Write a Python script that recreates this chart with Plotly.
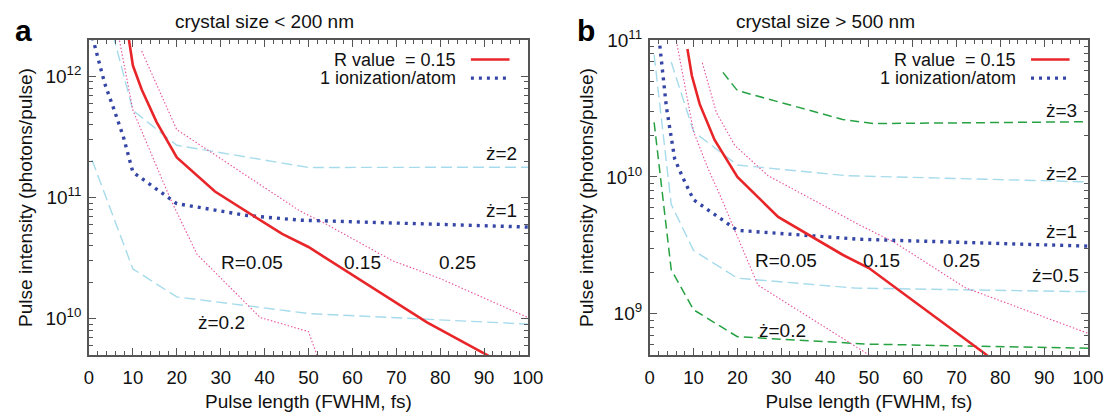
import numpy as np
import plotly.graph_objects as go

# ---------------- data: panel a (crystal size < 200 nm) ----------------
pulse_a_r015 = [8.7, 10, 12, 15.4, 20, 28.7, 44, 50, 77, 80, 91, 92.5]
inten_a_r015 = [2.5e12, 1.23e12, 7.8e11, 4.2e11, 2.14e11, 1.12e11, 5.0e10, 3.9e10, 9.3e9, 8.1e9, 4.9e9, 4.6e9]

pulse_a_ion = [0.8, 3.6, 5.8, 7.8, 10, 20, 36, 48, 100]
inten_a_ion = [2.1e12, 8.7e11, 5.2e11, 3.2e11, 1.62e11, 8.9e10, 7.1e10, 6.5e10, 5.7e10]

pulse_a_r005 = [6.5, 10, 18.5, 24.6, 39, 50, 53]
inten_a_r005 = [2.4e12, 5.25e11, 9.8e10, 3.4e10, 1.02e10, 7.8e9, 3.9e9]

pulse_a_r025 = [12, 20, 28, 48, 54, 69, 80, 100]
inten_a_r025 = [1.62e12, 3.63e11, 2.34e11, 7.76e10, 6.03e10, 3.02e10, 2.14e10, 1.02e10]

pulse_a_z2 = [5.5, 10, 20, 50, 100]
inten_a_z2 = [2.2e12, 5.25e11, 2.7e11, 1.77e11, 1.78e11]

pulse_a_z02 = [0.7, 10, 20, 50, 100]
inten_a_z02 = [2.04e11, 2.57e10, 1.51e10, 1.10e10, 9.0e9]

# ---------------- data: panel b (crystal size > 500 nm) ----------------
pulse_b_r015 = [8.6, 9.6, 11.4, 14.8, 20, 29.3, 44, 50, 76.5, 77.5]
inten_b_r015 = [8.6e10, 5.5e10, 3.4e10, 1.86e10, 1.0e10, 5.1e9, 2.7e9, 2.16e9, 5.1e8, 4.8e8]

pulse_b_ion = [2.3, 3.8, 5.7, 7.6, 10, 20, 48, 100]
inten_b_ion = [9.1e10, 3.24e10, 1.35e10, 9.8e9, 6.8e9, 4.07e9, 3.5e9, 3.12e9]

pulse_b_r005 = [5.8, 10, 13.3, 16, 19.4, 24.7, 50.5]
inten_b_r005 = [1.1e11, 2.14e10, 1.15e10, 7.4e9, 4.07e9, 1.62e9, 4.9e8]

pulse_b_r025 = [12, 15.2, 19.4, 27, 38.4, 47.6, 56, 72, 100]
inten_b_r025 = [6.8e10, 2.95e10, 1.7e10, 1.02e10, 6.5e9, 4.5e9, 3.3e9, 1.55e9, 7.2e8]

pulse_b_z3 = [16.7, 20, 44, 51, 100]
inten_b_z3 = [5.8e10, 4.27e10, 2.63e10, 2.45e10, 2.53e10]

pulse_b_z2 = [4.9, 10, 20, 45, 100]
inten_b_z2 = [6.9e10, 2.14e10, 1.22e10, 1.02e10, 9.2e9]

pulse_b_z05 = [1.0, 4.9, 10, 20, 47, 100]
inten_b_z05 = [7.8e10, 6.3e9, 2.9e9, 1.82e9, 1.54e9, 1.45e9]

pulse_b_z02 = [1.0, 4.9, 10, 20, 50, 100]
inten_b_z02 = [2.5e10, 2.1e9, 1.07e9, 6.8e8, 6.0e8, 5.6e8]

# ---------------- curve labels ----------------
labels_a = [  # (text, pulse, intensity, anchor)
    ("ż=2", 98, 2.29e11, "right"),
    ("ż=1", 98, 7.85e10, "right"),
    ("R=0.05", 37.1, 2.92e10, "center"),
    ("0.15", 62.2, 2.92e10, "center"),
    ("0.25", 84.0, 2.92e10, "center"),
    ("ż=0.2", 30.2, 9.3e9, "center"),
]
labels_b = [
    ("ż=3", 98, 3.06e10, "right"),
    ("ż=2", 98, 1.06e10, "right"),
    ("ż=1", 98, 4.0e9, "right"),
    ("ż=0.5", 98.5, 1.92e9, "right"),
    ("R=0.05", 31, 2.47e9, "center"),
    ("0.15", 52.9, 2.47e9, "center"),
    ("0.25", 71.1, 2.47e9, "center"),
    ("ż=0.2", 30.2, 7.6e8, "center"),
]

FONT = "Liberation Sans, Arial, Helvetica, sans-serif"
TXT = 19
KEY = 18
TICK = 18.5
RED = "#e8262a"
NAVY = "#3546a6"
PINK = "#e8509c"
LIGHTBLUE = "#a6dbeb"
GREEN = "#27a243"
AXIS = "#555555"

style_r015 = dict(color=RED, width=2.6)
style_ion = dict(color=NAVY, width=3.4, dash="3px,5px")
style_pink = dict(color=PINK, width=1.1, dash="1.5px,2px")
style_lb = dict(color=LIGHTBLUE, width=1.4, dash="11px,5px")
style_gr = dict(color=GREEN, width=1.5, dash="9px,5px")

fig = go.Figure()


def add_line(x, y, line, xa, ya):
    fig.add_trace(go.Scatter(x=x, y=y, mode="lines", line=line,
                             xaxis=xa, yaxis=ya, showlegend=False,
                             hoverinfo="skip"))


# panel a
add_line(pulse_a_z2, inten_a_z2, style_lb, "x", "y")
add_line(pulse_a_z02, inten_a_z02, style_lb, "x", "y")
add_line(pulse_a_r005, inten_a_r005, style_pink, "x", "y")
add_line(pulse_a_r025, inten_a_r025, style_pink, "x", "y")
add_line(pulse_a_ion, inten_a_ion, style_ion, "x", "y")
add_line(pulse_a_r015, inten_a_r015, style_r015, "x", "y")

# panel b
add_line(pulse_b_z3, inten_b_z3, style_gr, "x2", "y2")
add_line(pulse_b_z02, inten_b_z02, style_gr, "x2", "y2")
add_line(pulse_b_z2, inten_b_z2, style_lb, "x2", "y2")
add_line(pulse_b_z05, inten_b_z05, style_lb, "x2", "y2")
add_line(pulse_b_r005, inten_b_r005, style_pink, "x2", "y2")
add_line(pulse_b_r025, inten_b_r025, style_pink, "x2", "y2")
add_line(pulse_b_ion, inten_b_ion, style_ion, "x2", "y2")
add_line(pulse_b_r015, inten_b_r015, style_r015, "x2", "y2")


def minor_vals(lo, hi):
    vals = []
    for d in range(lo, hi + 1):
        for m in range(2, 10):
            vals.append(m * 10.0 ** d)
    return vals


xaxis_common = dict(
    range=[0, 100], dtick=10, tick0=0, ticks="inside", ticklen=7, tickwidth=1.2,
    tickcolor=AXIS, showline=True, linecolor=AXIS, linewidth=1.6, mirror="allticks",
    showgrid=False, zeroline=False, ticklabelstandoff=5, automargin=False,
    minor=dict(dtick=2, tick0=0, ticks="inside", ticklen=4, tickcolor=AXIS, showgrid=False),
    title=dict(text="Pulse length (FWHM, fs)", font=dict(size=TXT, color="#111"), standoff=11),
    tickfont=dict(size=TICK, color="#111"),
)
yaxis_common = dict(
    type="log", ticks="inside", ticklen=7, tickwidth=1.2, tickcolor=AXIS,
    showline=True, linecolor=AXIS, linewidth=1.6, mirror="allticks",
    showgrid=False, zeroline=False, ticklabelstandoff=2, automargin=False,
    title=dict(text="Pulse intensity (photons/pulse)", font=dict(size=TXT, color="#111"), standoff=8),
    tickfont=dict(size=TICK + 0.5, color="#111"),
)

ya = dict(yaxis_common)
ya.update(range=[np.log10(5e9), np.log10(2e12)], tickmode="array",
          tickvals=[1e10, 1e11, 1e12],
          ticktext=["10<sup>10</sup>", "10<sup>11</sup>", "10<sup>12</sup>"],
          minor=dict(tickmode="array", tickvals=minor_vals(9, 12), ticks="inside",
                     ticklen=4, tickcolor=AXIS, showgrid=False))
yb = dict(yaxis_common)
yb.update(range=[np.log10(5e8), 11], tickmode="array",
          tickvals=[1e9, 1e10, 1e11],
          ticktext=["10<sup>9</sup>", "10<sup>10</sup>", "10<sup>11</sup>"],
          minor=dict(tickmode="array", tickvals=minor_vals(8, 10), ticks="inside",
                     ticklen=4, tickcolor=AXIS, showgrid=False))

fig.update_layout(
    width=1107, height=412,
    margin=dict(l=89, r=19, t=40, b=57, autoexpand=False),
    paper_bgcolor="white", plot_bgcolor="white",
    font=dict(family=FONT, size=TXT, color="#111"),
    xaxis=dict(xaxis_common, domain=[0, 0.4394], anchor="y"),
    yaxis=dict(ya, anchor="x"),
    xaxis2=dict(xaxis_common, domain=[0.5613, 1.0], anchor="y2"),
    yaxis2=dict(yb, anchor="x2"),
    showlegend=False,
)

annotations = []
for (txt, px, iv, anchor) in labels_a:
    annotations.append(dict(text=txt, x=px, y=np.log10(iv), xref="x", yref="y",
                            xanchor=anchor, yanchor="middle", showarrow=False,
                            font=dict(size=TXT, color="#111")))
for (txt, px, iv, anchor) in labels_b:
    annotations.append(dict(text=txt, x=px, y=np.log10(iv), xref="x2", yref="y2",
                            xanchor=anchor, yanchor="middle", showarrow=False,
                            font=dict(size=TXT, color="#111")))

# panel titles and letters
titles = [("crystal size < 200 nm", "x", 0.40), ("crystal size > 500 nm", "x2", 0.40)]
for txt, ax, fx in titles:
    annotations.append(dict(text=txt, x=fx, y=1.058, xref=f"{ax} domain", yref="paper",
                            xanchor="center", yanchor="middle", showarrow=False,
                            font=dict(size=TXT, color="#111")))
for txt, ax, fx in [("a", "x", -0.15), ("b", "x2", -0.145)]:
    annotations.append(dict(text=f"<b>{txt}</b>", x=fx, y=1.03, xref=f"{ax} domain", yref="paper",
                            xanchor="center", yanchor="middle", showarrow=False,
                            font=dict(size=30, color="#000")))

# in-plot key for each panel
shapes = []
for ax, ay in [("x", "y"), ("x2", "y2")]:
    for txt, yy, line in [("R value  = 0.15", 0.938, style_r015),
                          ("1 ionization/atom", 0.879, style_ion)]:
        annotations.append(dict(text=txt, x=0.84, y=yy, xref=f"{ax} domain", yref=f"{ay} domain",
                                xanchor="right", yanchor="middle", showarrow=False,
                                font=dict(size=KEY, color="#111")))
        shapes.append(dict(type="line", x0=0.87, x1=0.958, y0=yy, y1=yy,
                           xref=f"{ax} domain", yref=f"{ay} domain", line=line))

fig.update_layout(annotations=annotations, shapes=shapes)
fig.write_html("out.html")
